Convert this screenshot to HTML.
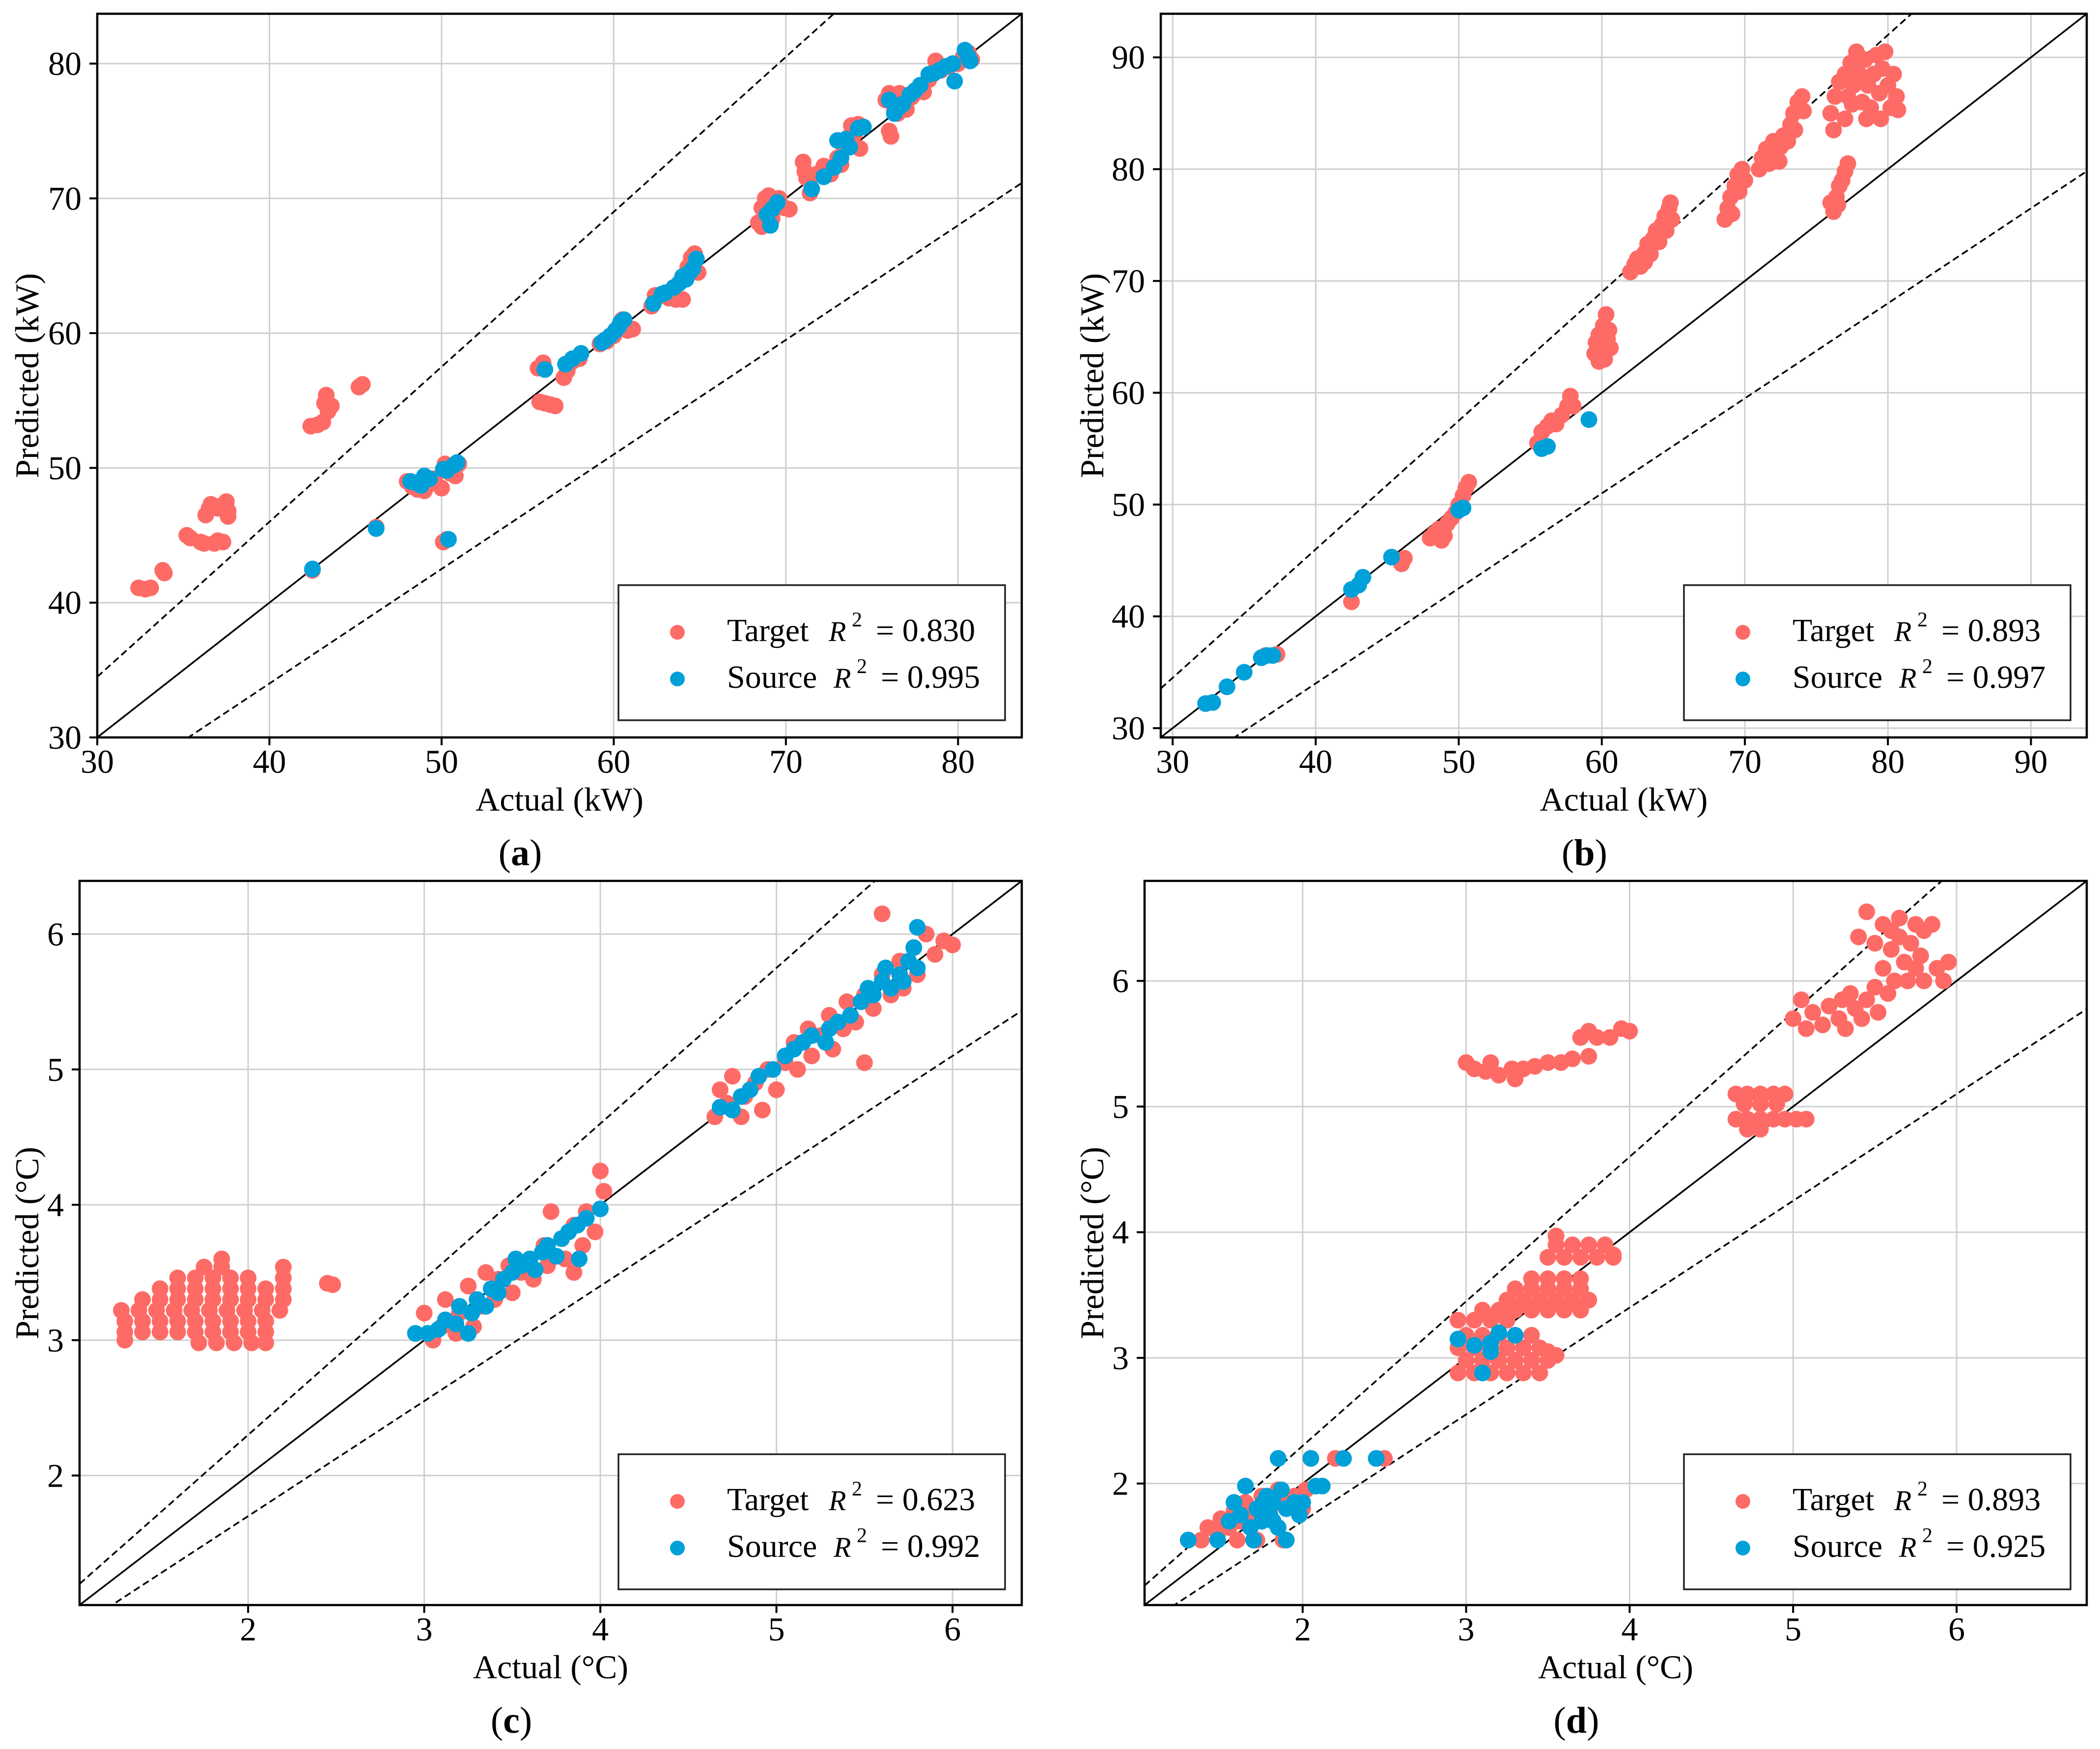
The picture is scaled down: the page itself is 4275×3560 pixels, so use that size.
<!DOCTYPE html>
<html><head><meta charset="utf-8">
<style>
html,body{margin:0;padding:0;background:#fff;}
svg{display:block;}
text{font-family:"Liberation Serif",serif;fill:#000;}
</style></head>
<body>
<svg id="fig" xmlns="http://www.w3.org/2000/svg" width="4275" height="3560" viewBox="0 0 4275 3560" font-family="Liberation Serif, serif">
<rect x="0" y="0" width="4275" height="3560" fill="#fff"/>
</svg>
<script>
// ---------- Panel (a) data ----------
const aTicks = [30,40,50,60,70,80];
const aTargetX = [32.4,32.8,33.1,33.8,33.9,35.2,35.4,36,36.2,36.3,36.5,36.6,36.8,37,37,37.2,37.5,37.6,37.6,37.3,
 42.4,42.8,43.1,43.2,43.3,43.4,43.6,45.2,45.4,42.5,46.2,
 48,48.3,48.6,49,49.3,49.6,50,50.2,50.5,50.8,51,50.1,50.3,
 55.6,55.9,55.7,56,56.3,56.6,57.1,57.3,57.6,58,
 59.2,59.6,60,60.3,60.5,60.8,61.1,
 62.2,62.4,62.8,63.2,63.6,64,64,64.3,64.5,64.7,64.9,
 68.4,68.6,68.8,69,69.2,69.4,69.6,69.9,70.2,68.6,
 71,71.1,71.2,71.4,71.8,72.2,72.6,73,73.3,73.6,73.8,74,74.2,74.3,74.5,73.2,
 75.8,76,76,76.1,76.3,76.6,77,77.3,77.8,78,78.3,78.7,79,79.5,80,80.3,80.6,80.8,76.5,78.5];
const aTargetY = [41.1,41,41.1,42.4,42.2,45,44.8,44.5,44.4,46.5,47,47.3,44.4,44.6,47,47.2,47.5,46.8,46.4,44.5,
 53.1,53.2,53.4,54.8,55.4,54.2,54.6,56,56.2,42.4,45.6,
 49,48.6,48.4,48.3,48.8,49.2,48.5,50.3,49.6,49.4,50.3,44.5,44.7,
 57.4,57.8,54.9,54.8,54.7,54.6,56.7,57.2,57.9,58.1,
 59.2,59.4,59.8,60.5,61,60.2,60.3,
 62,62.8,62.8,62.6,62.5,62.5,64.2,64.9,65.6,65.9,64.5,
 68.2,69.3,70,70.2,68.5,69.8,70,69.3,69.2,67.9,
 72.7,72,71.5,70.4,71.8,72.4,71.8,73,74,74.5,75.4,74.8,75.5,73.7,75.3,72.5,
 77.3,77.8,75,74.6,76.5,77.8,76.6,77.5,78,77.9,78.8,80.2,79.5,79.8,80,80.5,80.8,80.3,76.3,79.3];
const aSourceX = [42.5,46.2,48.2,48.5,48.8,49,49.3,50.1,50.3,50.7,50.9,50.4,56,57.2,57.6,58.1,59.3,59.5,59.8,60.1,60.3,60.4,60.6,62.3,62.8,63,63.5,63.8,64,64.2,64.4,64.6,64.8,68.9,69.2,69.5,69.1,71.5,72.2,72.8,73,73.2,73.5,73.7,74.2,74.5,76,76.3,76.6,76.8,77.2,77.5,77.8,78.3,78.6,78.9,79.3,79.7,79.8,80.4,80.6,80.7];
const aSourceY = [42.5,45.5,49,48.9,48.7,49.4,49.2,49.9,49.8,50.2,50.4,44.7,57.3,57.7,58.1,58.5,59.3,59.5,59.8,60.2,60.5,60.8,61,62.2,62.9,63,63.4,63.7,64.2,64,64.5,64.8,65.5,68.8,69.2,69.7,68,70.7,71.6,72.3,74.3,73,74.4,73.8,75.2,75.3,77.3,76.3,76.8,77,77.7,78,78.4,79.2,79.3,79.5,79.8,80,78.7,81,80.5,80.2];
const aR2 = ["0.830","0.995"];

// ---------- Panel (b) data ----------
const bTicks = [30,40,50,60,70,80,90];
const bTargetX = [36.5,37.3,42.5,43,46,46.2,
 48,48.3,48.6,49,49.2,49.5,49.8,50,50.3,50.5,50.7,48.8,
 55.5,55.8,56.2,56.5,56.8,57.2,57.6,57.8,58,
 59.5,59.6,59.8,60,60.1,60.2,60.3,60.4,60.6,59.8,60.5,
 62,62.3,62.5,62.7,63,63.2,63.4,63.6,63.8,64,64.2,64.4,64.5,64.7,64.8,64.9,63,
 68.6,68.8,69,69.1,69.3,69.5,69.6,69.8,70,
 71,71.2,71.5,71.7,72,72.2,72.5,72.7,73,73.2,73.4,73.5,73.7,74,74.1,72.4,
 76,76.2,76.4,76.6,76.8,77,77.2,76.5,
 76,76.3,76.6,77,77.2,77.4,77.6,77.8,78,78.2,78.4,78.6,78.8,79,79.2,79.4,79.6,79.8,80,80.2,80.4,80.6,80.7,77,76.2,78.5,79.5,77.5];
const bTargetY = [36.5,36.6,41.3,42.8,44.7,45.2,
 47,47.4,47.8,47.2,48.3,48.8,49.3,50,50.8,51.5,52,46.8,
 55.5,56.5,57,57.5,57.2,58,58.8,59.7,58.8,
 63.5,64.5,65.2,64,66,63,67,64.8,64,62.8,65.6,
 70.8,71.5,72,71.3,72.5,73.3,72.4,73.8,74.5,73.5,75,75.8,74.5,76.5,77,75.5,71.7,
 75.5,76.5,77.5,76,78.5,79.5,78,80,79,
 80,81,81.8,80.5,82.5,81.3,82,83,82.5,84,85,83.5,86,86.5,85.2,80.7,
 77,76.2,77.5,78.5,79,79.8,80.5,76.8,
 85,86.5,87.8,88.5,86.5,89.5,87.5,90.5,88.5,86,89.8,87.5,85.5,88.5,90.2,86.8,89,90.5,87.5,85.5,88.5,86.5,85.3,84.5,83.5,84.5,84.5,85.8];
const bSourceX = [32.3,32.8,33.8,35,36.2,36.6,37,42.5,43,43.3,45.3,50,50.3,55.8,56.2,59.1];
const bSourceY = [32.2,32.3,33.7,35,36.3,36.5,36.5,42.4,42.8,43.5,45.3,49.5,49.7,55,55.2,57.6];
const bR2 = ["0.893","0.997"];

// ---------- Panel (c) data ----------
const cTicks = [2,3,4,5,6];
const cTargetX = [1.72,1.82,1.92,2.02,2.1,
 1.3,1.4,1.5,1.6,1.7,1.8,1.9,2.0,2.1,
 1.3,1.4,1.5,1.6,1.7,1.8,1.9,2.0,2.1,
 1.28,1.38,1.48,1.58,1.68,1.78,1.88,1.98,2.08,2.18,
 1.4,1.5,1.6,1.7,1.8,1.9,2.0,2.1,2.2,
 1.5,1.6,1.7,1.8,1.9,2.0,2.1,2.2,
 1.6,1.7,1.8,1.9,2.0,2.2,
 1.75,1.85,2.2,1.85,2.45,2.48,1.3,
 2.95,3.0,3.05,3.1,3.12,3.18,3.2,3.25,3.28,3.32,3.35,3.4,3.42,3.48,3.5,3.55,3.6,3.62,3.68,3.7,3.72,3.78,3.8,3.85,3.9,3.92,3.97,4.0,4.02,3.85,
 4.65,4.68,4.72,4.75,4.8,4.82,4.88,4.92,4.95,5.0,5.05,5.1,5.12,5.18,5.2,5.25,5.3,5.32,5.38,5.4,5.45,5.5,5.5,5.55,5.6,5.6,5.65,5.7,5.72,5.78,5.8,5.85,5.9,5.95,6.0];
const cTargetY = [2.98,2.98,2.98,2.98,2.98,
 3.06,3.06,3.06,3.06,3.06,3.06,3.06,3.06,3.06,
 3.14,3.14,3.14,3.14,3.14,3.14,3.14,3.14,3.14,
 3.22,3.22,3.22,3.22,3.22,3.22,3.22,3.22,3.22,3.22,
 3.30,3.30,3.30,3.30,3.30,3.30,3.30,3.30,3.30,
 3.38,3.38,3.38,3.38,3.38,3.38,3.38,3.38,
 3.46,3.46,3.46,3.46,3.46,3.46,
 3.54,3.54,3.54,3.6,3.42,3.41,3.0,
 3.05,3.2,3.0,3.1,3.3,3.05,3.2,3.4,3.1,3.25,3.5,3.3,3.45,3.55,3.35,3.5,3.6,3.45,3.7,3.55,3.95,3.75,3.6,3.85,3.7,3.95,3.8,4.25,4.1,3.5,
 4.65,4.85,4.75,4.95,4.65,4.8,4.9,4.7,5.0,4.85,5.05,5.2,5.0,5.3,5.1,5.25,5.4,5.15,5.3,5.5,5.35,5.05,5.55,5.45,5.7,6.15,5.55,5.8,5.6,5.9,5.7,6.0,5.85,5.95,5.92];
const cSourceX = [2.95,3.02,3.08,3.12,3.18,3.2,3.25,3.27,3.3,3.35,3.38,3.42,3.45,3.5,3.52,3.55,3.6,3.63,3.67,3.7,3.75,3.78,3.82,3.87,3.88,3.92,4.0,
 4.68,4.75,4.8,4.85,4.9,4.98,5.05,5.1,5.15,5.2,5.28,5.3,5.35,5.42,5.48,5.52,5.55,5.6,5.62,5.65,5.7,5.72,5.75,5.78,5.8,5.8];
const cSourceY = [3.05,3.05,3.08,3.15,3.12,3.25,3.05,3.2,3.3,3.25,3.38,3.35,3.45,3.5,3.6,3.55,3.6,3.52,3.65,3.7,3.62,3.75,3.8,3.85,3.6,3.9,3.97,
 4.72,4.7,4.8,4.85,4.95,5.0,5.1,5.15,5.2,5.25,5.2,5.3,5.35,5.4,5.5,5.6,5.55,5.65,5.75,5.6,5.7,5.65,5.8,5.9,6.05,5.75];
const cR2 = ["0.623","0.992"];

// ---------- Panel (d) data ----------
const dTicks = [2,3,4,5,6];
const dTargetX = [1.3,1.38,1.42,1.48,1.5,1.55,1.58,1.62,1.65,1.7,1.72,1.75,1.8,1.85,1.88,1.9,1.95,2.0,2.02,1.6,2.05,2.2,2.45,2.5,
 2.95,3.05,3.15,3.25,3.35,3.45,
 3.0,3.1,3.2,3.3,3.4,3.5,
 2.95,3.05,3.15,3.25,3.35,3.45,
 3.0,3.1,3.2,3.3,3.4,
 2.95,3.05,3.15,3.25,
 3.1,3.2,3.3,3.4,3.5,3.6,3.7,
 3.25,3.35,3.45,3.55,3.65,3.75,
 3.3,3.4,3.5,3.6,3.7,
 3.4,3.5,3.6,3.7,
 3.5,3.6,3.7,3.8,3.9,
 3.55,3.65,3.75,3.85,
 3.55,3.9,3.5,3.55,
 3.0,3.05,3.12,3.2,3.28,3.35,3.42,3.5,3.58,3.65,3.7,3.75,3.8,3.88,3.95,4.0,3.75,3.15,3.3,
 4.65,4.72,4.8,4.88,4.95,4.7,4.8,4.9,4.65,4.72,4.8,4.88,4.95,5.02,5.08,4.72,4.8,
 5.0,5.05,5.08,5.12,5.18,5.22,5.28,5.32,5.38,5.42,5.45,5.5,5.52,5.55,5.58,5.6,5.62,5.65,5.68,5.7,5.72,5.75,5.78,5.8,5.85,5.88,5.92,5.95,5.45,5.4,5.5,5.55,5.65,5.8,5.35,5.3,5.6,5.75];
const dTargetY = [1.55,1.55,1.65,1.6,1.72,1.65,1.78,1.7,1.85,1.75,1.55,1.9,1.8,1.95,1.55,1.85,1.9,1.8,1.95,1.55,2.2,2.2,2.2,2.2,
 2.88,2.88,2.88,2.88,2.88,2.88,
 2.98,2.98,2.98,2.98,2.98,2.98,
 3.08,3.08,3.08,3.08,3.08,3.08,
 3.18,3.18,3.18,3.18,3.18,
 3.3,3.3,3.3,3.3,
 3.38,3.38,3.38,3.38,3.38,3.38,3.38,
 3.46,3.46,3.46,3.46,3.46,3.46,
 3.55,3.55,3.55,3.55,3.55,
 3.63,3.63,3.63,3.63,
 3.8,3.8,3.8,3.8,3.8,
 3.9,3.9,3.9,3.9,
 3.97,3.82,3.05,3.02,
 5.35,5.3,5.28,5.25,5.3,5.3,5.32,5.35,5.35,5.38,5.55,5.6,5.55,5.55,5.62,5.6,5.4,5.35,5.22,
 5.1,5.1,5.1,5.1,5.1,5.02,5.02,5.02,4.9,4.9,4.9,4.9,4.9,4.9,4.9,4.82,4.82,
 5.7,5.85,5.62,5.75,5.65,5.8,5.7,5.62,5.78,5.7,5.85,5.95,5.75,6.1,5.9,6.25,6.0,6.35,6.15,6.0,6.3,6.1,6.2,6.0,6.45,6.1,6.0,6.15,6.55,6.35,6.3,6.45,6.5,6.4,5.9,5.85,6.4,6.45];
const dSourceX = [1.3,1.48,1.55,1.58,1.62,1.65,1.68,1.7,1.72,1.75,1.78,1.8,1.82,1.85,1.85,1.87,1.9,1.9,1.95,1.98,2.0,2.05,2.08,2.12,2.25,2.45,1.76,1.82,
 2.95,3.05,3.1,3.15,3.2,3.3,3.15];
const dSourceY = [1.55,1.55,1.7,1.85,1.75,1.98,1.65,1.55,1.8,1.7,1.9,1.75,1.85,1.65,2.2,1.95,1.8,1.55,1.85,1.75,1.85,2.2,1.98,1.98,2.2,2.2,1.85,1.7,
 3.15,3.1,2.88,3.05,3.2,3.18,3.12];
const dR2 = ["0.893","0.925"];

const NS = "http://www.w3.org/2000/svg";
const svg = document.getElementById('fig');
const TARGET = "#FE6B66", SOURCE = "#00A0D9";
const SERIF = "Liberation Serif, serif";

function mk(tag, attrs, parent){
  const e = document.createElementNS(NS, tag);
  for (const k in attrs) e.setAttribute(k, attrs[k]);
  if (tag === 'text' && !attrs['font-family']) e.setAttribute('font-family', SERIF);
  (parent||svg).appendChild(e);
  return e;
}

function panel(cfg){
  const g = mk('g', {});
  
  
  const L=cfg.left, R=cfg.right, T=cfg.top, B=cfg.bottom, lo=cfg.lo, hi=cfg.hi;
  const sx = v => L + (v-lo)/(hi-lo)*(R-L);
  const sy = v => B - (v-lo)/(hi-lo)*(B-T);
  cfg.ticks.forEach(t=>{
    const gx = mk('line',{x1:sx(t),x2:sx(t),y1:T,y2:B,stroke:'#cfcfcf','stroke-width':3},g);
    
    
    const gy = mk('line',{x1:L,x2:R,y1:sy(t),y2:sy(t),stroke:'#cfcfcf','stroke-width':3},g);
    
    
  });
  const clip = mk('clipPath',{id:'clip-'+cfg.id},g);
  mk('rect',{x:L,y:T,width:R-L,height:B-T},clip);
  const rl = mk('g',{'clip-path':'url(#clip-'+cfg.id+')'},g);
  const l1 = mk('line',{x1:sx(lo),y1:sy(lo),x2:sx(hi),y2:sy(hi),stroke:'#000','stroke-width':3.5},rl);
  
  
  const l2 = mk('line',{x1:sx(lo),y1:sy(lo*1.15),x2:sx(hi),y2:sy(hi*1.15),stroke:'#000','stroke-width':3.5,'stroke-dasharray':'14,8'},rl);
  
  
  const l3 = mk('line',{x1:sx(lo),y1:sy(lo*0.85),x2:sx(hi),y2:sy(hi*0.85),stroke:'#000','stroke-width':3.5,'stroke-dasharray':'14,8'},rl);
  
  
  const pts = mk('g',{'clip-path':'url(#clip-'+cfg.id+')'},g);
  cfg.tx.forEach((x,i)=>{
    const c = mk('circle',{cx:sx(x),cy:sy(cfg.ty[i]),r:17,fill:TARGET},pts);
    
    
  });
  cfg.sx.forEach((x,i)=>{
    const c = mk('circle',{cx:sx(x),cy:sy(cfg.sy[i]),r:17,fill:SOURCE},pts);
    
    
  });
  const sp = mk('rect',{x:L,y:T,width:R-L,height:B-T,fill:'none',stroke:'#000','stroke-width':4.5},g);
  
  
  cfg.ticks.forEach(t=>{
    mk('line',{x1:sx(t),x2:sx(t),y1:B,y2:B+16,stroke:'#000','stroke-width':4},g);
    const xt = mk('text',{x:sx(t),y:B+72,'font-size':68,'text-anchor':'middle'},g);
    xt.textContent = t;
    
    
    mk('line',{x1:L-16,x2:L,y1:sy(t),y2:sy(t),stroke:'#000','stroke-width':4},g);
    const yt = mk('text',{x:L-32,y:sy(t)+23,'font-size':68,'text-anchor':'end'},g);
    yt.textContent = t;
    
    
  });
  const xl = mk('text',{x:(L+R)/2,y:B+149,'font-size':68,'text-anchor':'middle'},g);
  xl.textContent = cfg.xlabel;
  
  
  const cy = (T+B)/2;
  const yl = mk('text',{x:cfg.ylx,y:cy,'font-size':68,'text-anchor':'middle','dominant-baseline':'central',transform:'rotate(-90 '+cfg.ylx+' '+cy+')'},g);
  yl.textContent = cfg.ylabel;
  
  
  const pl = mk('text',{x:(L+R)/2-80,y:B+260,'font-size':76,'text-anchor':'middle'},g);
  pl.innerHTML = '(<tspan font-weight="bold">'+cfg.id+'</tspan>)';
  
  
  const lx = cfg.legX, ly = cfg.legY;
  const lg = mk('g',{},g);
  
  
  mk('rect',{x:lx,y:ly,width:787,height:275,fill:'#fff',stroke:'#222','stroke-width':3.5},lg);
  const rows = [['Target',TARGET,cfg.r2[0],114,0],['Source',SOURCE,cfg.r2[1],209,10]];
  rows.forEach(r=>{
    const e = mk('g',{},lg);
    
    
    mk('circle',{cx:lx+120,cy:ly+r[3]-18,r:15,fill:r[1]},e);
    const t1 = mk('text',{x:lx+221,y:ly+r[3],'font-size':66},e);
    t1.textContent = r[0];
    const t2 = mk('text',{x:lx+428+r[4],y:ly+r[3],'font-size':58,'font-style':'italic','font-family':'DejaVu Sans, sans-serif'},e);
    t2.textContent = 'R';
    const t3 = mk('text',{x:lx+475+r[4],y:ly+r[3]-30,'font-size':42,'font-family':'DejaVu Sans, sans-serif'},e);
    t3.textContent = '2';
    const t4 = mk('text',{x:lx+524+r[4],y:ly+r[3],'font-size':66},e);
    t4.textContent = '= ' + r[2];
  });
}

panel({id:'a',left:198,right:2080,top:28,bottom:1501,lo:30,hi:83.7,ticks:aTicks,
  tx:aTargetX,ty:aTargetY,sx:aSourceX,sy:aSourceY,r2:aR2,
  xlabel:'Actual (kW)',ylabel:'Predicted (kW)',ylx:55,legX:1259,legY:1191});
panel({id:'b',left:2363,right:4248,top:28,bottom:1501,lo:29.17,hi:93.9,ticks:bTicks,
  tx:bTargetX,ty:bTargetY,sx:bSourceX,sy:bSourceY,r2:bR2,
  xlabel:'Actual (kW)',ylabel:'Predicted (kW)',ylx:2223,legX:3428,legY:1191});
panel({id:'c',left:162,right:2080,top:1793,bottom:3267,lo:1.043,hi:6.393,ticks:cTicks,
  tx:cTargetX,ty:cTargetY,sx:cSourceX,sy:cSourceY,r2:cR2,
  xlabel:'Actual (°C)',ylabel:'Predicted (°C)',ylx:55,legX:1259,legY:2960});
panel({id:'d',left:2330,right:4248,top:1793,bottom:3267,lo:1.033,hi:6.796,ticks:dTicks,
  tx:dTargetX,ty:dTargetY,sx:dSourceX,sy:dSourceY,r2:dR2,
  xlabel:'Actual (°C)',ylabel:'Predicted (°C)',ylx:2223,legX:3428,legY:2960});
</script>
</body></html>
